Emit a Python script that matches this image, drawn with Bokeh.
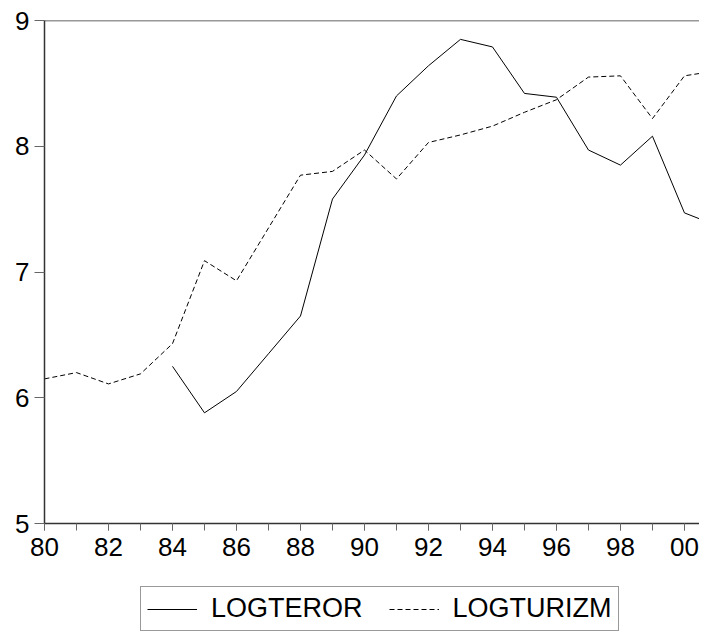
from bokeh.plotting import figure
from bokeh.models import Legend, LegendItem, FixedTicker, Span, Range1d
from bokeh.layouts import column
from bokeh.embed import file_html
from bokeh.resources import INLINE

years = list(range(1980, 2002))
logteror = [None, None, None, None, 6.25, 5.88, 6.05, 6.35, 6.65, 7.58, 7.93,
            8.40, 8.64, 8.85, 8.79, 8.42, 8.39, 7.97, 7.85, 8.08, 7.47, 7.37]
logturizm = [6.15, 6.20, 6.11, 6.19, 6.43, 7.09, 6.93, 7.35, 7.77, 7.80, 7.97,
             7.74, 8.03, 8.09, 8.16, 8.27, 8.37, 8.55, 8.56, 8.22, 8.56, 8.60]
series_names = ["LOGTEROR", "LOGTURIZM"]
x_ticks = list(range(1980, 2001, 2))
x_minor = list(range(1980, 2002))
y_ticks = [5, 6, 7, 8, 9]

FONT = "Liberation Sans"

p = figure(width=699, height=570, output_backend="svg", toolbar_location=None,
           x_range=(1980, 2000.47), y_range=(5, 9),
           min_border_left=44, min_border_right=0, min_border_top=20, min_border_bottom=47)
p.outline_line_color = None
p.xgrid.visible = False
p.ygrid.visible = False
p.background_fill_color = "white"
p.border_fill_color = "white"

xs_t = [y for y, v in zip(years, logteror) if v is not None]
vs_t = [v for v in logteror if v is not None]
p.line(xs_t, vs_t, line_color="black", line_width=1)
p.line(years, logturizm, line_color="black", line_width=1, line_dash="5 3")

top = Span(location=9, dimension="width", line_color="#333333", line_width=1.5)
p.add_layout(top)

p.xaxis.ticker = FixedTicker(ticks=x_ticks, minor_ticks=x_minor)
p.xaxis.major_label_overrides = {y: "%02d" % (y % 100) for y in x_ticks}
p.yaxis.ticker = FixedTicker(ticks=y_ticks, minor_ticks=[])
for ax in (p.xaxis[0], p.yaxis[0]):
    ax.axis_line_color = "#333333"
    ax.axis_line_width = 1.5
    ax.major_tick_line_color = "#666666"
    ax.minor_tick_line_color = "#666666"
    ax.major_label_text_font = FONT
    ax.major_label_text_font_size = "26px"
    ax.major_label_text_color = "black"
    ax.major_tick_in = 0
    ax.minor_tick_in = 0
p.xaxis.major_tick_out = 7
p.xaxis.minor_tick_out = 7
p.xaxis.major_label_standoff = 7
p.yaxis.major_tick_out = 10
p.yaxis.major_label_standoff = 5

# legend strip below the chart (series drawn outside its ranges, only the legend shows)
p2 = figure(width=699, height=63, output_backend="svg", toolbar_location=None,
            x_range=Range1d(1980, 2001), y_range=Range1d(0, 1),
            min_border=0, min_border_left=0, min_border_right=0,
            min_border_top=0, min_border_bottom=0)
p2.axis.visible = False
p2.xgrid.visible = False
p2.ygrid.visible = False
p2.outline_line_color = None
p2.background_fill_color = "white"
p2.border_fill_color = "white"
g1 = p2.line(xs_t, vs_t, line_color="black", line_width=1)
g2 = p2.line(years, logturizm, line_color="black", line_width=1, line_dash="5 3")

legend = Legend(items=[LegendItem(label=series_names[0], renderers=[g1]),
                       LegendItem(label=series_names[1], renderers=[g2])],
                orientation="horizontal", location=(96, 2))
legend.label_text_font = FONT
legend.label_text_font_size = "27px"
legend.label_text_color = "black"
legend.glyph_width = 50
legend.glyph_height = 20
legend.label_standoff = 14
legend.spacing = 26
legend.padding = 6
legend.margin = 0
legend.border_line_color = "#333333"
legend.border_line_width = 1
legend.background_fill_alpha = 1
p2.add_layout(legend, "center")

layout = column(p, p2, spacing=0)
open("out.html", "w").write(file_html(layout, INLINE))
